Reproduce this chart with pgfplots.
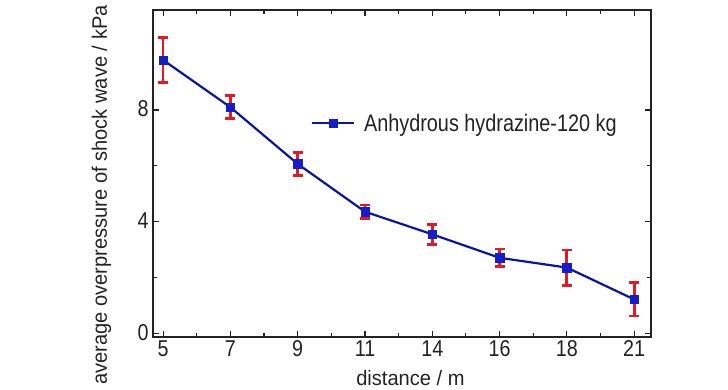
\documentclass[border=0pt]{standalone}
\usepackage{fontspec}
\setmainfont{Liberation Sans}
\newfontfamily\tickfont[FakeStretch=0.86]{Liberation Sans}
\newfontfamily\labfont[FakeStretch=0.96]{Liberation Sans}
\newfontfamily\legfont[FakeStretch=0.83]{Liberation Sans}
\usepackage{pgfplots}
\pgfplotsset{compat=1.18}
\definecolor{lineblue}{RGB}{10,20,165}
\definecolor{markblue}{RGB}{20,30,200}
\definecolor{errred}{RGB}{228,25,35}
\definecolor{axgray}{RGB}{35,35,35}
\begin{document}
\begin{tikzpicture}
\path[use as bounding box] (0,0) rectangle (728bp,390bp);
\begin{axis}[
  scale only axis,
  width=498bp, height=327bp,
  at={(153bp,53bp)}, anchor=south west,
  xmin=-0.15, xmax=7.25,
  ymin=-0.125, ymax=11.58,
  xtick={0,1,2,3,4,5,6,7},
  xticklabels={5,7,9,11,14,16,18,21},
  ytick={0,4,8},
  minor x tick num=1,
  minor y tick num=1,
  tick align=inside,
  major tick length=6bp,
  minor tick length=4bp,
  axis line style={axgray, line width=1.4bp},
  tick style={axgray, line width=1.1bp},
  every tick label/.append style={font=\tickfont\fontsize{23}{24}\selectfont, text=axgray},
  /pgf/number format/assume math mode=true,
  xticklabel style={yshift=0bp},
  yticklabel style={xshift=-1bp, yshift=1bp},
  xlabel={distance / m},
  ylabel={average overpressure of shock wave / kPa},
  label style={font=\labfont\fontsize{21}{23}\selectfont, text=axgray},
  xlabel style={at={(axis description cs:0.517,-0.147)}, anchor=base},
  ylabel style={at={(axis description cs:-0.0924,0.434)}, anchor=base},
  legend style={draw=none, fill=none, at={(axis description cs:0.317,0.653)}, anchor=west,
    font=\legfont\fontsize{24}{26}\selectfont, text=axgray, inner sep=0pt,
    nodes={inner sep=0pt}, column sep=9bp},
  legend cell align=left,
  legend image code/.code={%
    \draw[mark repeat=2, mark phase=2, #1] plot coordinates {(0bp,0bp) (21bp,0bp) (42bp,0bp)};
  },
]
\addlegendimage{lineblue, line width=2bp, mark=square*, mark size=4bp,
  mark options={fill=markblue, draw=markblue, line width=0.5bp}}
\addlegendentry{Anhydrous hydrazine-120 kg}
\addplot[
  forget plot,
  color=lineblue, line width=2.2bp,
  mark=square*, mark size=4.2bp, mark options={fill=markblue, draw=markblue, line width=0.5bp},
  error bars/.cd, y dir=both, y explicit,
  error bar style={errred, line width=2.8bp},
  error mark options={errred, line width=2.6bp, mark size=5bp, rotate=90},
] table[x=x, y=y, y error=e] {
x y e
0 9.79 0.80
1 8.10 0.41
2 6.07 0.41
3 4.36 0.245
4 3.55 0.36
5 2.71 0.32
6 2.36 0.635
7 1.22 0.60
};
\end{axis}
\end{tikzpicture}
\end{document}
